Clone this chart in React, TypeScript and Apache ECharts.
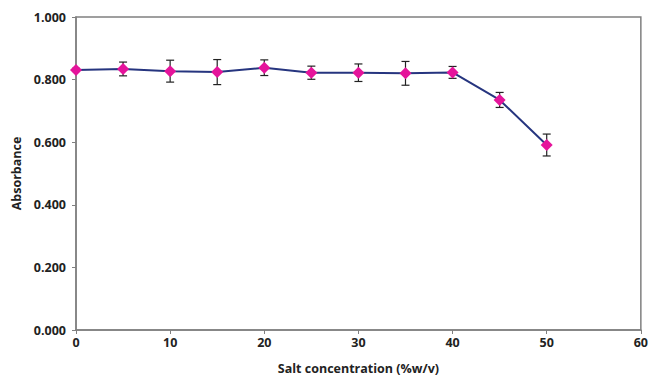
import React, { useEffect, useRef } from "react";
import * as echarts from "echarts";

const salt = [0, 5, 10, 15, 20, 25, 30, 35, 40, 45, 50];
const absorbance = [0.831, 0.834, 0.827, 0.824, 0.838, 0.822, 0.822, 0.820, 0.823, 0.735, 0.591];
const errors = [0.005, 0.022, 0.035, 0.040, 0.025, 0.021, 0.028, 0.038, 0.019, 0.024, 0.035];

export default function App() {
  const ref = useRef<HTMLDivElement>(null);
  useEffect(() => {
    if (!ref.current) return;
    const chart = echarts.init(ref.current, null, { renderer: "svg" });
    const font = "'Open Sans', 'Liberation Sans', sans-serif";
    const errData = salt.map((x, i) => [x, absorbance[i] - errors[i], absorbance[i] + errors[i]]);
    chart.setOption({
      animation: false,
      backgroundColor: "#ffffff",
      grid: { left: 76, right: 6, top: 17, bottom: 52, show: true, borderColor: "#808080", borderWidth: 1.5 },
      xAxis: {
        type: "value",
        min: 0,
        max: 60,
        interval: 10,
        name: "Salt concentration (%w/v)",
        nameLocation: "middle",
        nameGap: 32,
        nameTextStyle: { fontFamily: font, fontWeight: "bold", fontSize: 12.5, color: "#222" },
        axisLine: { show: true, lineStyle: { color: "#808080", width: 1.5 } },
        axisTick: { show: true, length: 4, lineStyle: { color: "#808080" } },
        axisLabel: { fontFamily: font, fontWeight: "bold", fontSize: 12.5, color: "#222", margin: 6 },
        splitLine: { show: false },
      },
      yAxis: {
        type: "value",
        min: 0,
        max: 1,
        interval: 0.2,
        name: "Absorbance",
        nameLocation: "middle",
        nameGap: 52,
        nameTextStyle: { fontFamily: font, fontWeight: "bold", fontSize: 12.5, color: "#222" },
        axisLine: { show: true, lineStyle: { color: "#808080", width: 1.5 } },
        axisTick: { show: true, length: 4, lineStyle: { color: "#808080" } },
        axisLabel: {
          fontFamily: font,
          fontWeight: "bold",
          fontSize: 12.5,
          color: "#222",
          margin: 10,
          formatter: (v: number) => v.toFixed(3),
        },
        splitLine: { show: false },
      },
      series: [
        {
          type: "custom",
          data: errData,
          z: 1,
          renderItem: (params: any, api: any) => {
            const x = api.value(0);
            const lo = api.coord([x, api.value(1)]);
            const hi = api.coord([x, api.value(2)]);
            const w = 4;
            const style = { stroke: "#222", lineWidth: 1.2 };
            return {
              type: "group",
              children: [
                { type: "line", shape: { x1: lo[0], y1: lo[1], x2: hi[0], y2: hi[1] }, style },
                { type: "line", shape: { x1: lo[0] - w, y1: lo[1], x2: lo[0] + w, y2: lo[1] }, style },
                { type: "line", shape: { x1: hi[0] - w, y1: hi[1], x2: hi[0] + w, y2: hi[1] }, style },
              ],
            };
          },
        },
        {
          type: "line",
          data: salt.map((x, i) => [x, absorbance[i]]),
          z: 3,
          lineStyle: { color: "#26357f", width: 2 },
          symbol: "diamond",
          symbolSize: 12,
          itemStyle: { color: "#e5149b" },
        },
      ],
    });
    return () => chart.dispose();
  }, []);
  return <div ref={ref} style={{ width: 651, height: 382, position: "absolute", left: 0, top: 0 }} />;
}
